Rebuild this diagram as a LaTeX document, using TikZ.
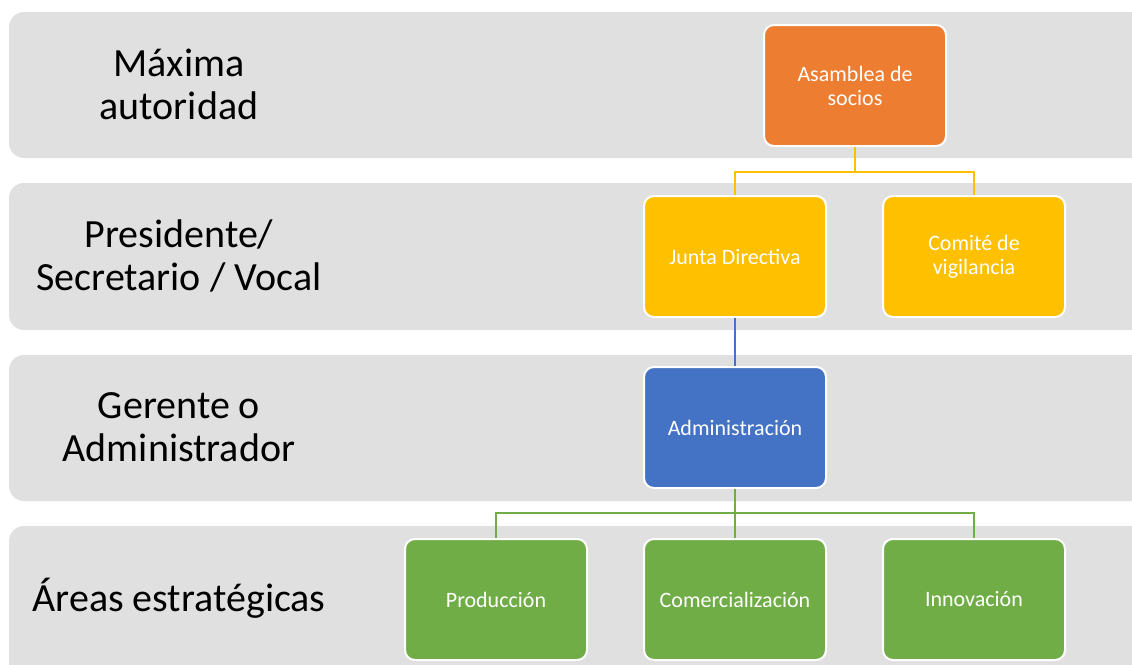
\documentclass[tikz,border=0pt]{standalone}
\usepackage{fontspec}
\setmainfont{Carlito}
\definecolor{bandgray}{RGB}{224,224,224}
\definecolor{orgc}{RGB}{237,125,49}
\definecolor{ylwc}{RGB}{255,192,0}
\definecolor{bluc}{RGB}{68,114,196}
\definecolor{grnc}{RGB}{112,173,71}
\tikzset{
  band/.style={fill=bandgray, rounded corners=15pt},
  lvl/.style={font=\fontsize{40}{43}\selectfont, align=center, text=black},
  orgbox/.style={rounded corners=10pt, draw=white, line width=2pt, minimum width=182pt, minimum height=121pt,
     text=white, font=\fontsize{22}{24}\selectfont, align=center, inner sep=0pt},
  conn/.style={line width=2pt}
}
\begin{document}
\begin{tikzpicture}[x=1pt,y=-1pt]
\useasboundingbox (0,0) rectangle (1132,664);
\begin{scope}
\clip (0,0) rectangle (1132,664);
\fill[band] (9,12) rectangle (1160,158);
\fill[band] (9,183) rectangle (1160,330);
\fill[band] (9,355) rectangle (1160,501);
\fill[band] (9,526) rectangle (1160,690);

\node[lvl] (l1) at (179,84) {Máxima\\autoridad};
\node[lvl] (l2) at (179,256) {Presidente/\\Secretario / Vocal};
\node[lvl] (l3) at (179,427) {Gerente o\\Administrador};
\node[lvl] (l4) at (179,598) {Áreas estratégicas};

\node[orgbox, fill=orgc] (asam) at (855,85.5) {Asamblea de\\socios};
\node[orgbox, fill=ylwc] (jd) at (735,256.5) {Junta Directiva};
\node[orgbox, fill=ylwc] (cv) at (974,256.5) {Comité de\\vigilancia};
\node[orgbox, fill=bluc] (adm) at (735,427.5) {Administración};
\node[orgbox, fill=grnc] (prod) at (496,599.5) {Producción};
\node[orgbox, fill=grnc] (com) at (735,599.5) {Comercialización};
\node[orgbox, fill=grnc] (inn) at (974,599.5) {Innovación};

\coordinate (ya) at (855,172);
\coordinate (ga) at (735,513);
\draw[conn, draw=ylwc] (asam.south) -- (ya) -| (jd.north);
\draw[conn, draw=ylwc] (ya) -| (cv.north);
\draw[conn, draw=bluc] (jd.south) -- (adm.north);
\draw[conn, draw=grnc] (adm.south) -- (ga) -| (prod.north);
\draw[conn, draw=grnc] (ga) -- (com.north);
\draw[conn, draw=grnc] (ga) -| (inn.north);
\end{scope}
\end{tikzpicture}
\end{document}
